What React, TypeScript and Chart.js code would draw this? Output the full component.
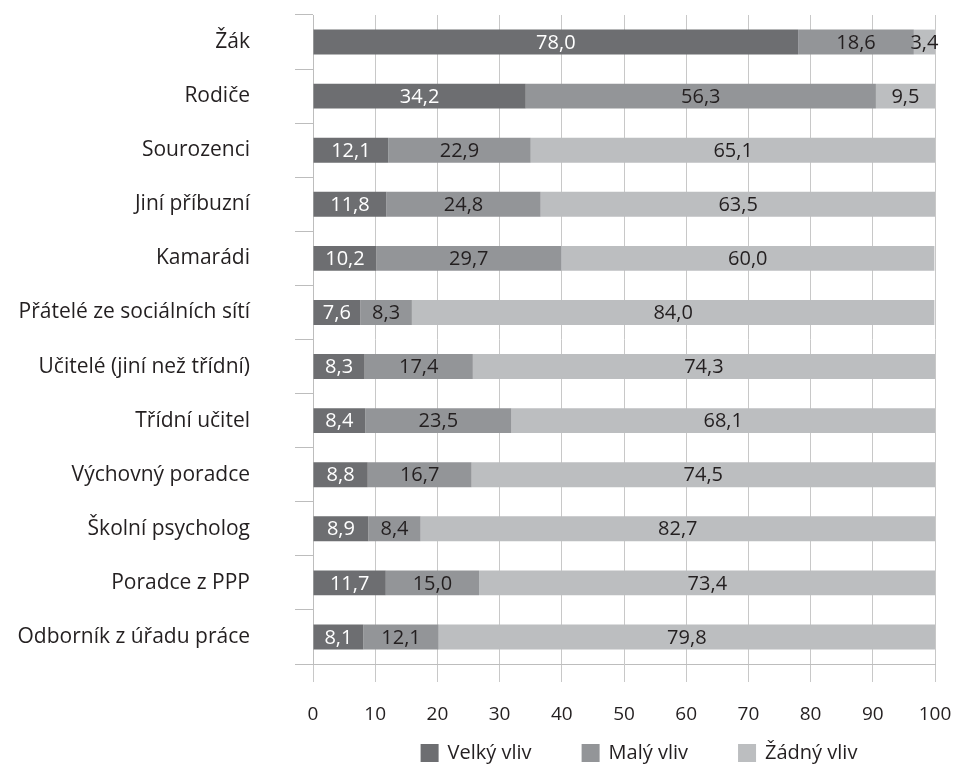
import React, { useEffect, useRef } from "react";
import { Chart, registerables } from "chart.js";

Chart.register(...registerables);

const categories = [
  "Žák",
  "Rodiče",
  "Sourozenci",
  "Jiní příbuzní",
  "Kamarádi",
  "Přátelé ze sociálních sítí",
  "Učitelé (jiní než třídní)",
  "Třídní učitel",
  "Výchovný poradce",
  "Školní psycholog",
  "Poradce z PPP",
  "Odborník z úřadu práce",
];

const velkyVliv = [78.0, 34.2, 12.1, 11.8, 10.2, 7.6, 8.3, 8.4, 8.8, 8.9, 11.7, 8.1];
const malyVliv = [18.6, 56.3, 22.9, 24.8, 29.7, 8.3, 17.4, 23.5, 16.7, 8.4, 15.0, 12.1];
const zadnyVliv = [3.4, 9.5, 65.1, 63.5, 60.0, 84.0, 74.3, 68.1, 74.5, 82.7, 73.4, 79.8];

const seriesNames = ["Velký vliv", "Malý vliv", "Žádný vliv"];
const seriesColors = ["#6d6e71", "#939598", "#bcbec0"];
const xTicks = [0, 10, 20, 30, 40, 50, 60, 70, 80, 90, 100];

const FONT = "'Open Sans', sans-serif";
const TEXT = "#231f20";

const labelPlugin = {
  id: "segLabels",
  afterDatasetsDraw(chart: any) {
    const ctx = chart.ctx;
    ctx.save();
    ctx.font = `20px ${FONT}`;
    ctx.textAlign = "center";
    ctx.textBaseline = "middle";
    chart.data.datasets.forEach((ds: any, di: number) => {
      const meta = chart.getDatasetMeta(di);
      meta.data.forEach((bar: any, i: number) => {
        const v = ds.data[i];
        const cx = (bar.x + bar.base) / 2;
        ctx.fillStyle = di === 0 ? "#ffffff" : TEXT;
        ctx.fillText(v.toFixed(1).replace(".", ","), cx, bar.y + 1);
      });
    });
    ctx.restore();
  },
};

const legendPlugin = {
  id: "customLegend",
  afterDraw(chart: any) {
    const ctx = chart.ctx;
    const area = chart.chartArea;
    ctx.save();
    ctx.font = `20px ${FONT}`;
    ctx.textBaseline = "middle";
    ctx.textAlign = "left";
    const box = 18;
    const gapText = 9;
    const gapItem = 50;
    const widths = chart.data.datasets.map(
      (ds: any) => box + gapText + ctx.measureText(ds.label).width
    );
    const total = widths.reduce((a: number, b: number) => a + b, 0) + gapItem * (widths.length - 1);
    let x = (area.left + area.right) / 2 + 15 - total / 2;
    const y = chart.height - 15;
    chart.data.datasets.forEach((ds: any, i: number) => {
      ctx.fillStyle = ds.backgroundColor;
      ctx.fillRect(x, y - box / 2, box, box);
      ctx.fillStyle = TEXT;
      ctx.fillText(ds.label, x + box + gapText, y);
      x += widths[i] + gapItem;
    });
    ctx.restore();
  },
};

export default function App() {
  const ref = useRef<HTMLCanvasElement>(null);
  useEffect(() => {
    const chart = new Chart(ref.current!, {
      type: "bar",
      data: {
        labels: categories,
        datasets: seriesNames.map((name, i) => ({
          label: name,
          data: [velkyVliv, malyVliv, zadnyVliv][i],
          backgroundColor: seriesColors[i],
        })),
      },
      options: {
        indexAxis: "y",
        animation: false,
        responsive: false,
        maintainAspectRatio: false,
        datasets: { bar: { categoryPercentage: 1, barPercentage: 0.46 } },
        layout: { padding: { top: 15, right: 20, left: 0, bottom: 34 } },
        plugins: {
          legend: { display: false },
          tooltip: { enabled: false },
        },
        scales: {
          x: {
            stacked: true,
            min: 0,
            max: 100,
            afterBuildTicks: (scale: any) => {
              scale.ticks = xTicks.map((v) => ({ value: v }));
            },
            afterFit: (scale: any) => {
              scale.height = 70;
              scale.paddingLeft = 0;
              scale.paddingRight = 0;
            },
            grid: { color: "#c8c8c8", tickLength: 18, drawTicks: true },
            border: { color: "#bdbdbd" },
            ticks: { font: { family: FONT, size: 19 }, color: TEXT, padding: 21, maxRotation: 0 },
          },
          y: {
            stacked: true,
            afterFit: (scale: any) => {
              scale.width = 313;
              scale.paddingTop = 0;
              scale.paddingBottom = 0;
            },
            grid: { drawOnChartArea: false, color: "#bdbdbd", tickLength: 18, offset: true },
            border: { color: "#bdbdbd" },
            ticks: { font: { family: FONT, size: 21 }, color: TEXT, padding: 45 },
          },
        },
      },
      plugins: [labelPlugin, legendPlugin],
    });
    return () => chart.destroy();
  }, []);
  return (
    <div style={{ position: "absolute", left: 0, top: 0, width: 955, height: 768 }}>
      <canvas ref={ref} width={955} height={768} />
    </div>
  );
}
